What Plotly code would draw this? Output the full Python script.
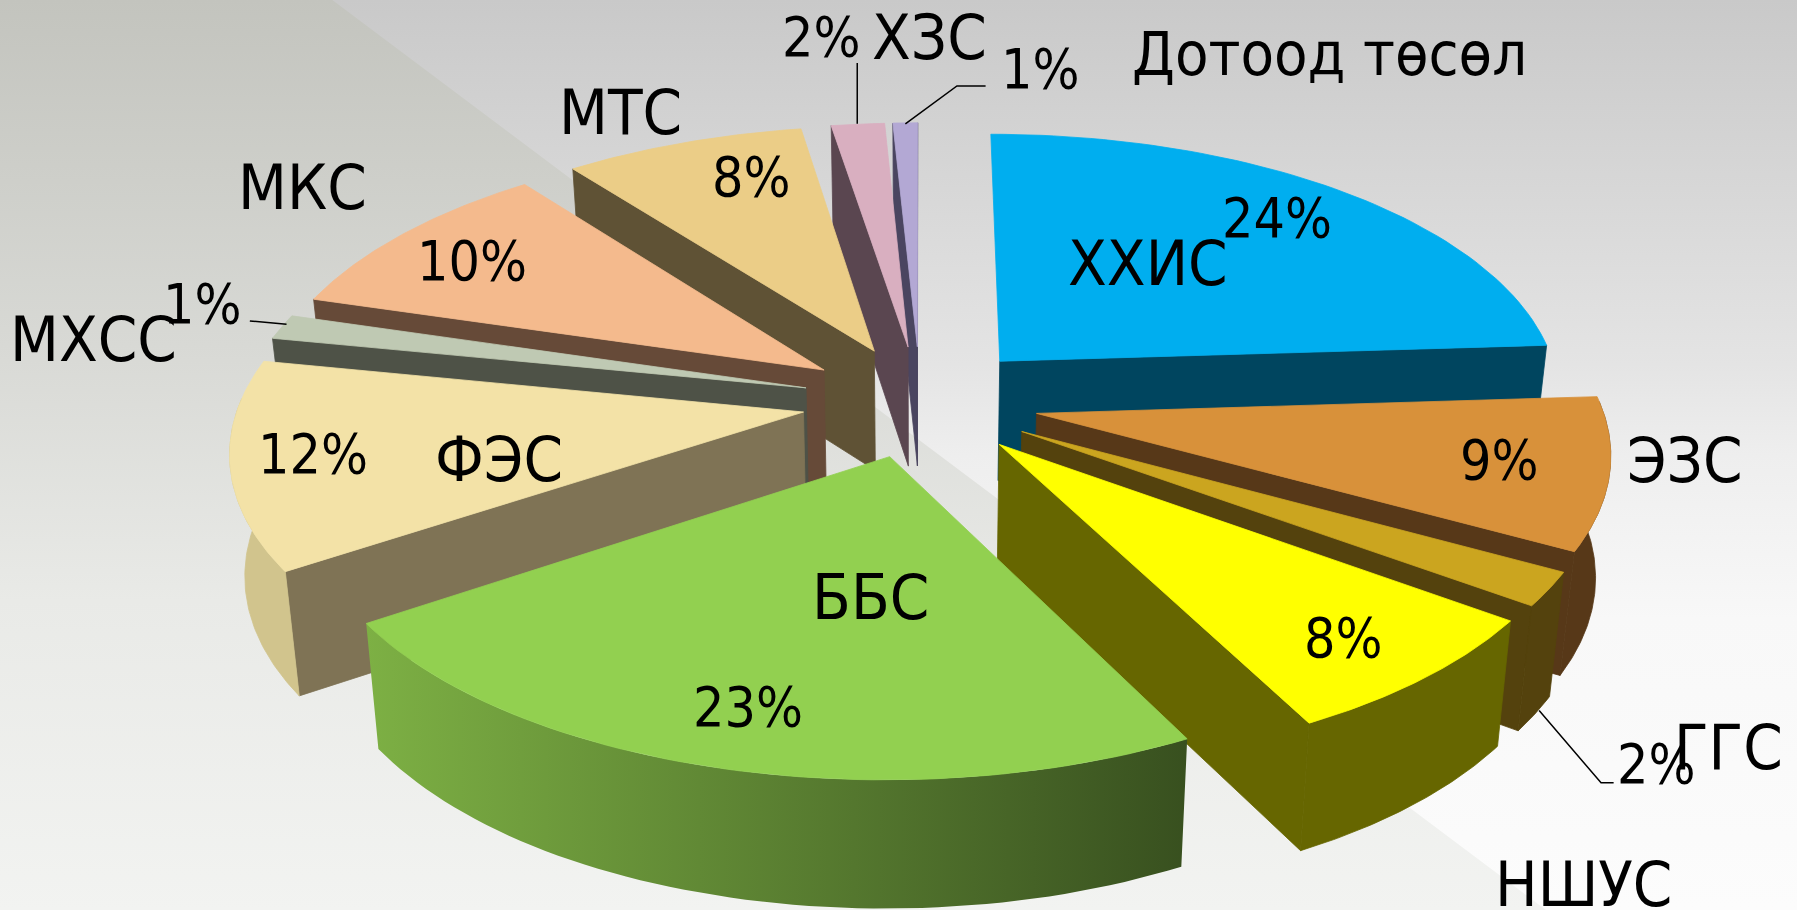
import numpy as np
import plotly.graph_objects as go

categories = ["ХХИС", "ЭЗС", "ГГС", "НШУС", "ББС", "ФЭС", "МХСС", "МКС", "МТС", "ХЗС", "Дотоод төсөл"]
values = [24, 9, 2, 7.4, 23.3, 12.4, 1.49, 9.95, 7.9, 1.75, 0.81]
percent_labels = ["24%", "9%", "2%", "8%", "23%", "12%", "1%", "10%", "8%", "2%", "1%"]

top_colors = ["#00AEEF", "#D8913A", "#CBA51F", "#FFFF00", "#92D050", "#F3E2A7", "#BFC9B3", "#F4BA8D", "#EBCD87", "#D9AFC0", "#B3A8D4"]
cut_colors = ["#00455F", "#573818", "#54420D", "#666600", "#3A5220", "#7F7355", "#4E5247", "#664A38", "#5F5235", "#5A4650", "#4A4560"]
wall_colors = ["#00455F", "#573818", "#54420D", "#666600", "#5A8030", "#D1C48D", "#4E5247", "#664A38", "#5F5235", "#5A4650", "#4A4560"]
explode = [0.21] * 11
draw_order = [10, 9, 8, 7, 6, 0, 1, 2, 5, 3, 4]

label_pos = [(1002, 230), (1470, 402), (1508, 652), (1382, 772), (760, 521), (435, 401),
             (82, 296), (264, 164), (541, 98), (811, 33), (1160, 47)]
label_size = [63, 63, 63, 63, 63, 63, 63, 63, 63, 63, 61]
pct_pos = [(1114, 190), (1308, 401), (1445, 667), (1172, 557), (653, 617), (273, 396),
           (177, 265), (412, 228), (656, 154), (717, 32), (908, 60)]

CX, CY, AX, AY, P, H, TILT = 803, 350, 492, 232, 0.129, 105, 0.978


def project(u, v, bottom=False):
    w = 1 - P * v
    x = CX + AX * u / w
    y = CY + AY * v / w
    if bottom:
        x = CX + (x - CX) * TILT
        y = y + H / w ** 0.4
    return x, y


def poly(fig, xy, color=None, gradient=None):
    xs = [p[0] for p in xy] + [xy[0][0]]
    ys = [p[1] for p in xy] + [xy[0][1]]
    if gradient:
        kw = dict(fillgradient=gradient, line=dict(width=0))
    else:
        kw = dict(fillcolor=color, line=dict(width=0.8, color=color))
    fig.add_trace(go.Scatter(x=xs, y=ys, mode="lines", fill="toself",
                             hoverinfo="skip", showlegend=False, **kw))


fig = go.Figure()

# background (the y axis runs downward, so the gradient stops are given bottom first)
poly(fig, [(0, 0), (1568, 0), (1568, 794), (0, 794)],
     gradient=dict(type="vertical", colorscale=[[0, "#FCFCFC"], [0.32, "#F8F8F8"], [0.5, "#EEEEEE"], [0.6, "#E4E4E4"], [1, "#C9C9C9"]]))
poly(fig, [(0, 0), (290, 0), (1349, 794), (0, 794)],
     gradient=dict(type="vertical", colorscale=[[0, "#F2F3F1"], [0.34, "#E9EAE7"], [0.62, "#D8D9D5"], [1, "#C3C4BE"]]))

cum = np.concatenate([[0], np.cumsum(values)]) / sum(values) * 2 * np.pi

for i in draw_order:
    a0, a1 = cum[i], cum[i + 1]
    mid = (a0 + a1) / 2
    ox, oy = explode[i] * np.sin(mid), -explode[i] * np.cos(mid)
    th = np.linspace(a0, a1, 60)
    us = ox + np.sin(th)
    vs = oy - np.cos(th)
    top = [project(u, v) for u, v in zip(us, vs)]
    bot = [project(u, v, True) for u, v in zip(us, vs)]
    at, ab = project(ox, oy), project(ox, oy, True)
    if np.sin(a0) < 0:
        poly(fig, [at, top[0], bot[0], ab], cut_colors[i])
    if np.sin(a1) > 0:
        poly(fig, [at, top[-1], bot[-1], ab], cut_colors[i])
    # the outer wall only where it faces the viewer
    keep = np.cos(th) < 0.05
    if keep.sum() >= 2:
        wt = [p for p, k in zip(top, keep) if k]
        wb = [p for p, k in zip(bot, keep) if k]
        if categories[i] == "ББС":
            poly(fig, wt + wb[::-1], gradient=dict(type="horizontal", colorscale=[[0, "#7DB044"], [1, "#38501F"]]))
        else:
            poly(fig, wt + wb[::-1], wall_colors[i])
    poly(fig, [at] + top, top_colors[i])

annotations = []
FONT = "DejaVu Sans Condensed, DejaVu Sans"
for name, (x, y), s in zip(categories, label_pos, label_size):
    annotations.append(dict(x=x, y=y, text=name, showarrow=False, font=dict(family=FONT, size=s, color="black")))
for pct, (x, y) in zip(percent_labels, pct_pos):
    annotations.append(dict(x=x, y=y, text=pct, showarrow=False, font=dict(family=FONT, size=55, color="black")))

leaders = [[(748, 55), (748, 108)], [(860, 75), (835, 75), (790, 108)], [(218, 280), (250, 283)],
           [(1343, 620), (1397, 683), (1408, 683)]]
shapes = [dict(type="line", x0=290, y0=0, x1=1349, y1=794, layer="below", line=dict(color="#EDEDD8", width=1))]
for pts in leaders:
    path = "M " + " L ".join(f"{a},{b}" for a, b in pts)
    shapes.append(dict(type="path", path=path, line=dict(color="black", width=1.5)))

fig.update_layout(
    width=1797, height=910, margin=dict(l=0, r=0, t=0, b=0),
    xaxis=dict(range=[0, 1568], visible=False, fixedrange=True),
    yaxis=dict(range=[794, 0], visible=False, fixedrange=True),
    plot_bgcolor="white", paper_bgcolor="white", showlegend=False,
    annotations=annotations, shapes=shapes,
)
fig.write_html("out.html", config=dict(displayModeBar=False),
               post_script="document.body.style.margin='0';document.body.style.overflow='hidden';")
